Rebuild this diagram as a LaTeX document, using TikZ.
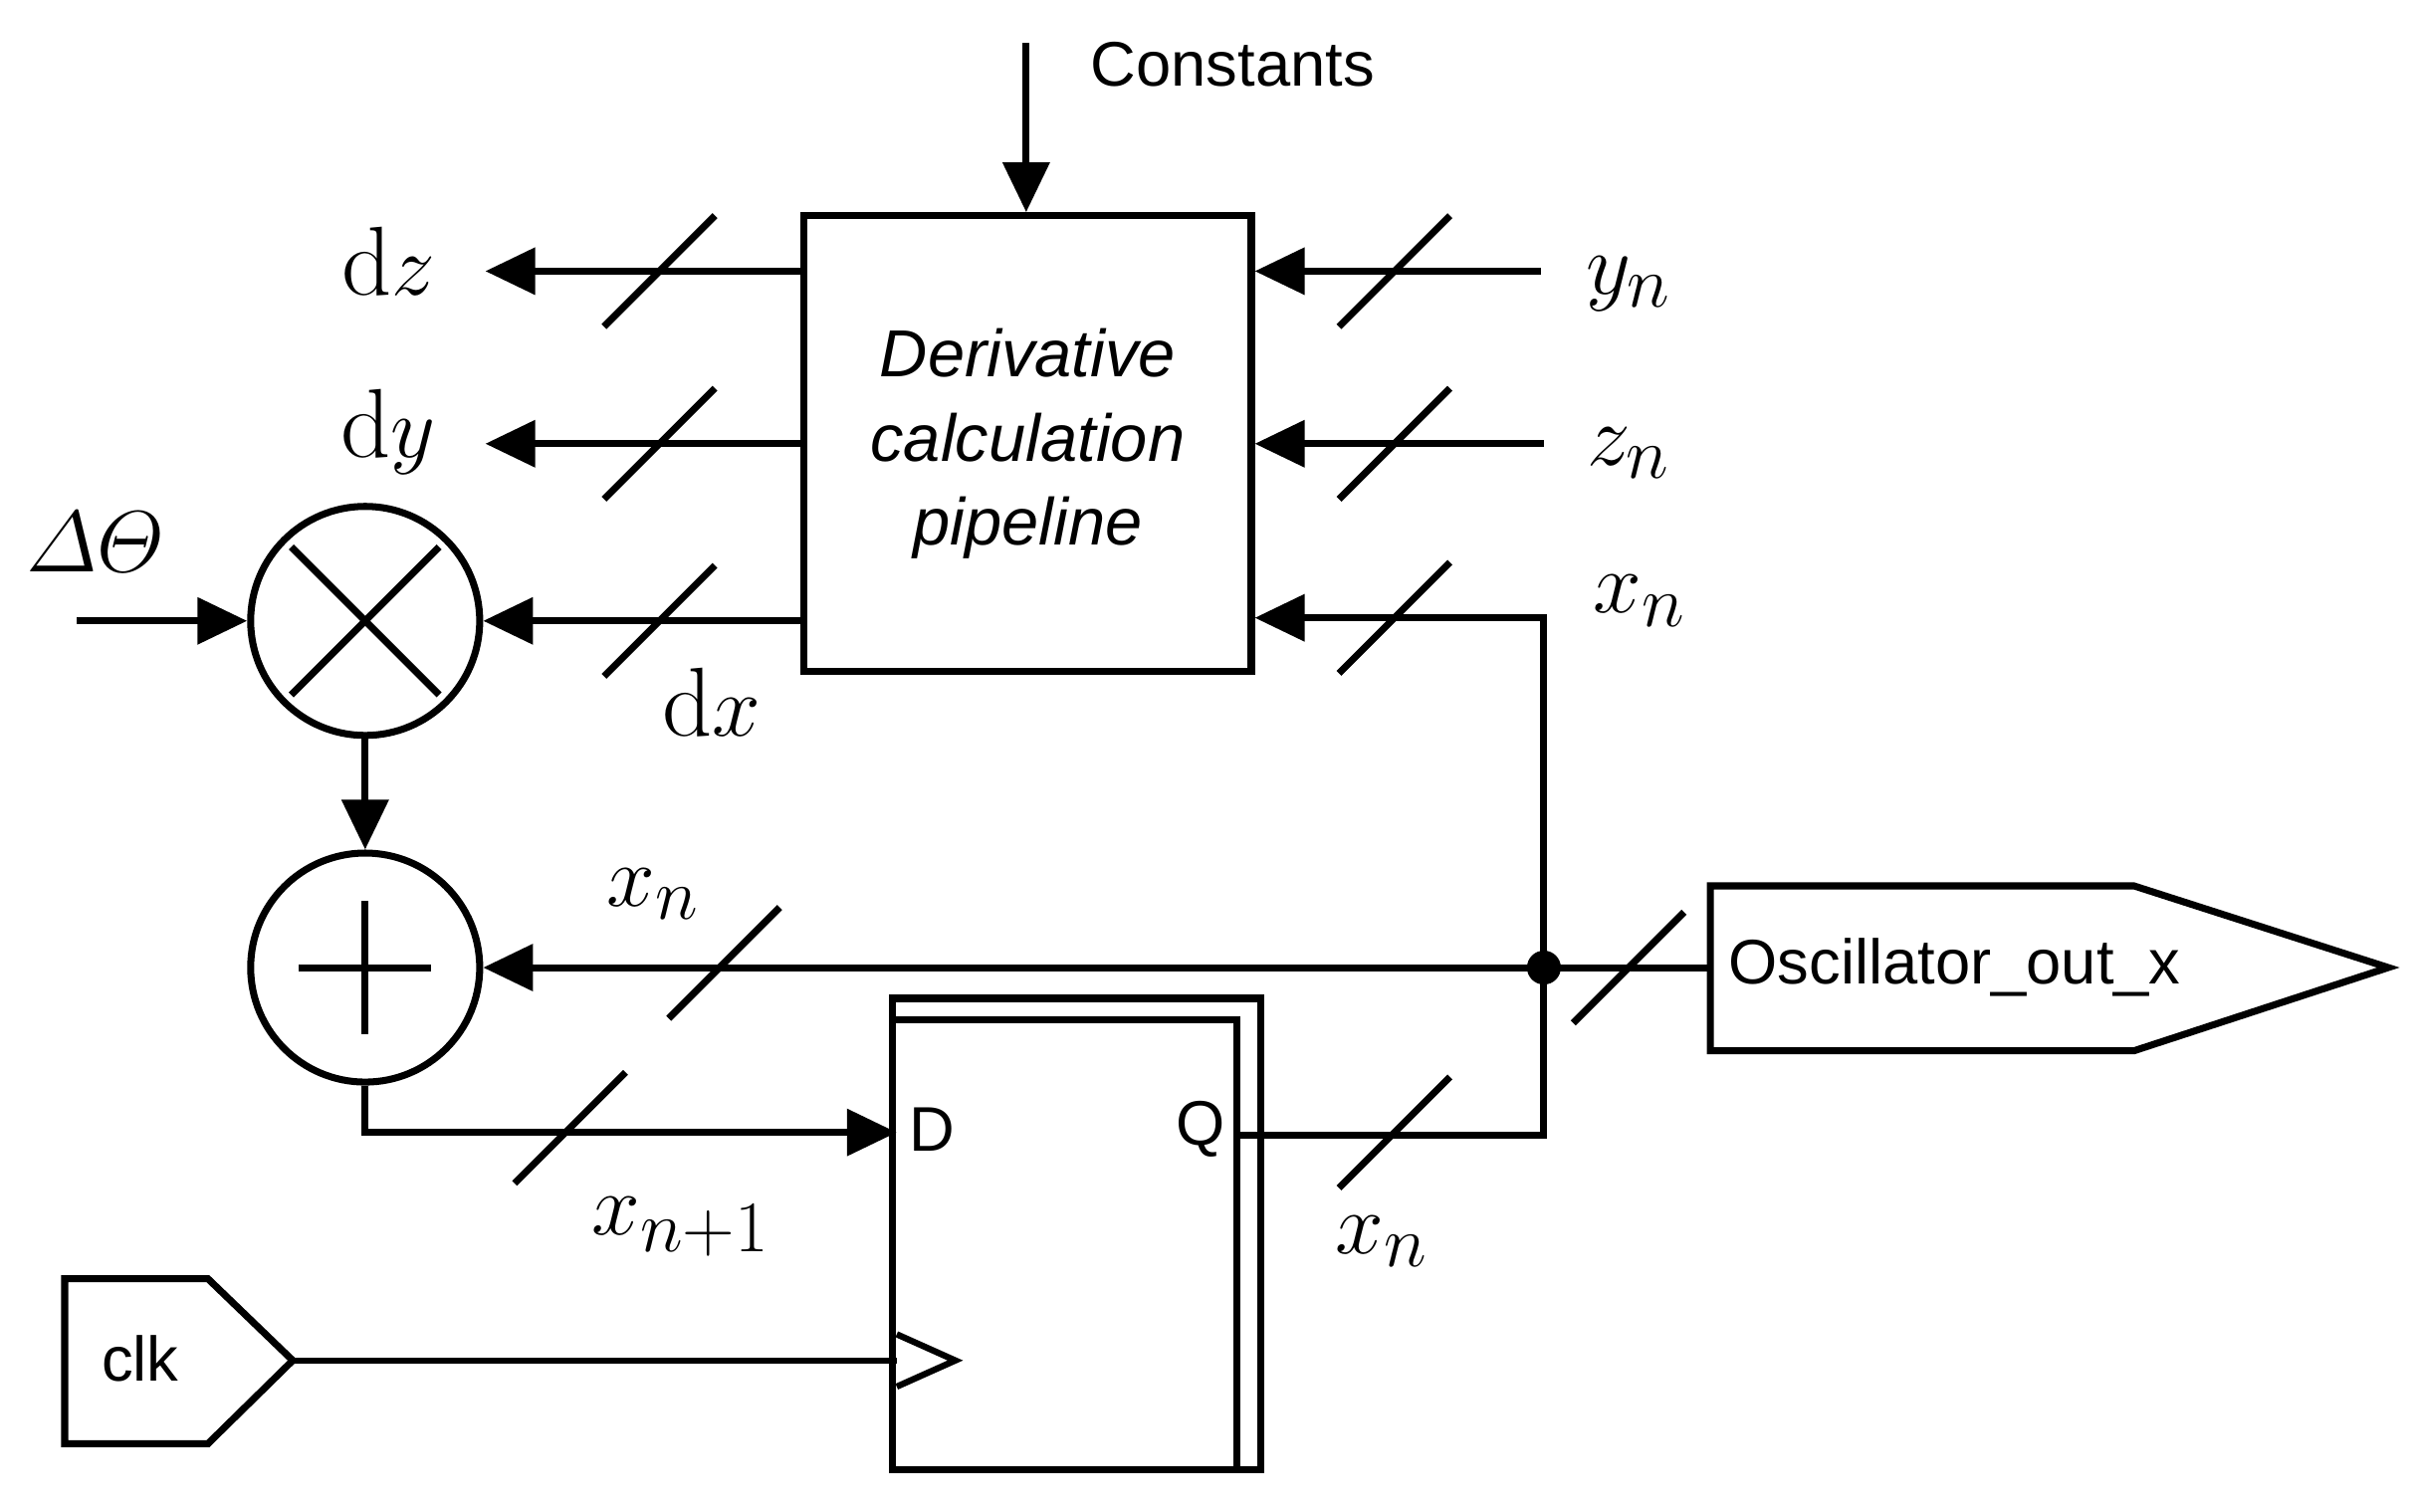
\documentclass[tikz,border=0pt]{standalone}
\usepackage{amsmath}
\usepackage{fontspec}
\setmainfont{Latin Modern Roman}
\newfontfamily\sansf{Liberation Sans}
\usetikzlibrary{arrows.meta,calc,shapes.geometric}
\begin{document}
\begin{tikzpicture}[x=0.01548cm,y=-0.01548cm,
  wire/.style={line width=2pt},
  arr/.style={wire,-{Triangle[length=0.5cm,width=0.46cm]}},
  slash/.style={line width=2pt},
  lbl/.style={font=\fontsize{28}{32}\selectfont},
  stxt/.style={font=\sansf\fontsize{18}{22}\selectfont},
  op/.style={circle,draw,line width=2pt,minimum size=2.3cm,inner sep=0pt}]
\useasboundingbox (0,0) rectangle (1568,981);
% pipeline box
\node[draw,line width=2pt,minimum width=4.49cm,minimum height=4.58cm,inner sep=0pt,
  align=center,font=\sansf\itshape\fontsize{19}{24}\selectfont] (box) at (667,288)
  {Derivative\\calculation\\pipeline};
\coordinate (cst) at (666,28);
\node[stxt,anchor=west] (cl) at (700,42) {Constants};
\draw[arr] (cst) -- (box.north -| cst);
% ops
\node[op] (mul) at (237,403) {};
\draw[line width=2pt] ($(mul.center)+(-48,-48)$) -- ($(mul.center)+(48,48)$)
  ($(mul.center)+(-48,48)$) -- ($(mul.center)+(48,-48)$);
\node[op] (add) at (237,628) {};
\draw[line width=2pt] ($(add.center)+(-43,0)$) -- ($(add.center)+(43,0)$)
  ($(add.center)+(0,-43)$) -- ($(add.center)+(0,43)$);
\draw[arr] (mul) -- (add);
% outputs left
\coordinate (dzE) at (315,176); \coordinate (dyE) at (315,288);
\node[lbl] (dz) at (252,170) {$\mathrm{d}z$};
\node[lbl] (dy) at (252,280) {$\mathrm{d}y$};
\node[lbl] (dx) at (462,456) {$\mathrm{d}x$};
\draw[arr] (box.west |- dzE) -- (dzE);
\draw[arr] (box.west |- dyE) -- (dyE);
\draw[arr] (box.west |- mul.east) -- (mul.east);
\node[lbl] (dth) at (62,352) {$\varDelta\varTheta$};
\coordinate (dthS) at (50,403);
\draw[arr] (dthS) -- (mul.west);
% inputs right
\coordinate (yS) at (1000,176); \coordinate (zS) at (1002,288);
\coordinate (jx) at (1002,401);
\node[lbl] (yn) at (1057,184) {$y_n$};
\node[lbl] (zn) at (1057,294) {$z_n$};
\node[lbl] (xn1) at (1064,390) {$x_n$};
\draw[arr] (yS) -- (box.east |- yS);
\draw[arr] (zS) -- (box.east |- zS);
% junction
\coordinate (J) at (1002,628);
\fill (J) circle (11);
\draw[arr] (J) -- (jx) -- (box.east |- jx);
\draw[arr] (J) -- (add.east);
\node[lbl] (xn2) at (424,580) {$x_n$};
% output pentagon
\coordinate (outW) at (1110,628);
\draw[line width=2pt] (1110,575) -- (1385,575) -- (1550,628) -- (1385,682) -- (1110,682) -- cycle;
\node[stxt,anchor=west] (outl) at (1114,628) {Oscillator\_out\_x};
\draw[wire] (J) -- (outW);
% flip-flop
\draw[line width=2pt] (579,648) rectangle (818,954);
\draw[line width=2pt] (579,662) rectangle (803,954);
\coordinate (Din) at (582,735); \coordinate (Qout) at (803,737);
\node[stxt,anchor=west] (D) at (582,733) {D};
\node[stxt,anchor=east] (Q) at (803,733) {Q};
\draw[arr] (add.south) |- (Din);
\node[lbl] (xnp) at (442,796) {$x_{n+1}$};
\draw[wire] (Qout) -- (1002,737) -- (J);
\node[lbl] (xn3) at (897,806) {$x_n$};
% clk
\draw[line width=2pt] (42,830) -- (135,830) -- (190,883) -- (135,937) -- (42,937) -- cycle;
\node[stxt,anchor=west] (clk) at (58,882) {clk};
\coordinate (ckS) at (190,883);
\coordinate (ck) at (582,883);
\draw[line width=1.8pt] (ckS) -- (ck);
\draw[line width=1.8pt] (582,866) -- (620,883) -- (582,900);
% slashes
\foreach \a/\b in {428/176,428/288,428/403,905/176,905/288,905/401,470/625,1057/628,370/732,905/735}
  \draw[slash] ($(\a,\b)+(-36,36)$) -- ($(\a,\b)+(36,-36)$);
\end{tikzpicture}
\end{document}
